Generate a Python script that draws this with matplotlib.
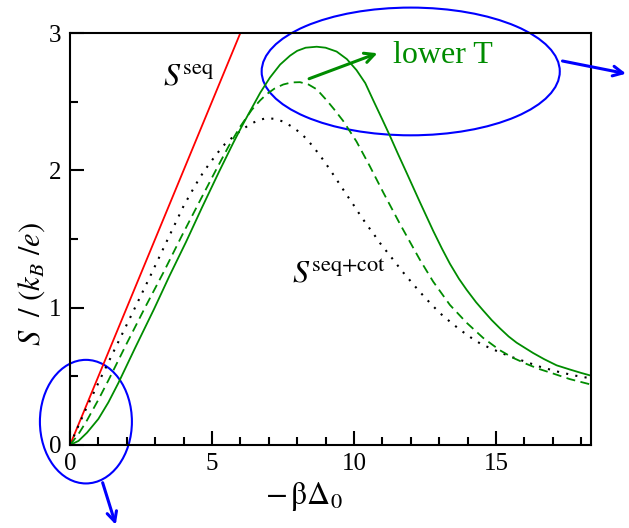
import matplotlib
matplotlib.use("Agg")
import matplotlib.pyplot as plt
from matplotlib.patches import Ellipse

plt.rcParams["font.family"] = ["Liberation Serif", "DejaVu Serif"]
plt.rcParams["mathtext.fontset"] = "stix"

GREEN = "#008c00"

# sequential tunnelling only: S = -beta*Delta0 / 2
x_seq = [0.0, 6.2]
s_seq = [0.0, 3.1]

# sequential + cotunnelling (dotted)
x_cot = [0.0, 0.5, 1.11, 1.7, 2.29, 2.85, 3.4, 4.0, 4.3, 4.58, 4.88, 5.17,
         5.45, 5.75, 6.05, 6.34, 6.63, 6.92, 7.2, 7.51, 7.8, 8.10, 8.35, 8.57,
         8.8, 9.04, 9.27, 9.51, 9.75, 9.98, 10.2, 10.45, 10.7, 10.92, 11.15,
         11.38, 11.7, 12.09, 12.32, 12.7, 13.03, 13.4, 13.73, 14.1, 14.44,
         14.8, 15.14, 15.5, 15.85, 16.2, 16.55, 16.9, 17.25, 17.8, 18.35]
s_cot = [0.0, 0.235, 0.5, 0.75, 1.0, 1.24, 1.48, 1.74, 1.85, 1.95, 2.04, 2.12,
         2.19, 2.245, 2.295, 2.335, 2.365, 2.38, 2.375, 2.355, 2.32, 2.275,
         2.225, 2.17, 2.11, 2.04, 1.97, 1.895, 1.82, 1.75, 1.68, 1.605, 1.535,
         1.47, 1.41, 1.35, 1.265, 1.17, 1.115, 1.03, 0.96, 0.895, 0.84, 0.785,
         0.74, 0.705, 0.675, 0.645, 0.62, 0.595, 0.57, 0.55, 0.53, 0.505, 0.485]

# intermediate temperature (dashed)
x_mid = [0.0, 0.3, 0.6, 1.0, 1.35, 2.0, 2.64, 3.3, 3.93, 4.58, 5.16, 5.6,
         6.0, 6.4, 6.7, 6.93, 7.2, 7.51, 7.8, 8.10, 8.4, 8.69, 9.04, 9.3,
         9.62, 10.09, 10.56, 11.03, 11.62, 12.32, 12.79, 13.38, 13.97, 14.55,
         15.14, 15.6, 16.08, 16.5, 17.02, 17.6, 18.35]
s_mid = [0.0, 0.08, 0.18, 0.33, 0.47, 0.74, 1.0, 1.26, 1.52, 1.78, 2.01, 2.18,
         2.32, 2.44, 2.51, 2.555, 2.595, 2.625, 2.64, 2.642, 2.625, 2.59, 2.51,
         2.445, 2.36, 2.21, 2.03, 1.84, 1.61, 1.35, 1.19, 1.02, 0.89, 0.78,
         0.69, 0.635, 0.59, 0.555, 0.52, 0.48, 0.44]

# lowest temperature (solid)
x_low = [0.0, 0.3, 0.6, 1.0, 1.35, 1.7, 2.0, 2.3, 2.96, 3.5, 4.09, 4.65,
         5.25, 5.75, 6.05, 6.34, 6.7, 7.04, 7.4, 7.75, 8.0, 8.3, 8.69, 9.0,
         9.39, 9.75, 10.09, 10.4, 10.68, 11.0, 11.27, 11.55, 11.86, 12.32,
         12.79, 13.1, 13.38, 13.7, 13.97, 14.3, 14.55, 14.85, 15.14, 15.45,
         15.73, 16.0, 16.31, 16.7, 17.14, 17.6, 18.0, 18.35]
s_low = [0.0, 0.03, 0.09, 0.19, 0.31, 0.45, 0.58, 0.71, 0.99, 1.23, 1.48, 1.73,
         1.99, 2.2, 2.32, 2.43, 2.565, 2.675, 2.77, 2.835, 2.87, 2.893, 2.90,
         2.893, 2.865, 2.81, 2.73, 2.635, 2.51, 2.37, 2.25, 2.12, 1.98, 1.77,
         1.56, 1.43, 1.32, 1.21, 1.13, 1.04, 0.98, 0.91, 0.85, 0.79, 0.745,
         0.71, 0.67, 0.625, 0.58, 0.55, 0.525, 0.505]

xticks = [0, 5, 10, 15]
yticks = [0, 1, 2, 3]


fig = plt.figure(figsize=(6.29, 5.28), dpi=100)
ax = fig.add_axes([0.1113, 0.1572, 0.8283, 0.7803])

ax.plot(x_seq, s_seq, color="red", lw=1.3)
ax.plot(x_cot, s_cot, color="black", lw=1.5, linestyle=(0, (1, 3.5)))
ax.plot(x_mid, s_mid, color=GREEN, lw=1.3, linestyle=(0, (5, 3)))
ax.plot(x_low, s_low, color=GREEN, lw=1.3)

ax.set_xlim(0, 18.35)
ax.set_ylim(0, 3)
ax.set_xticks(xticks)
ax.set_yticks(yticks)
ax.set_xticks(range(0, 19), minor=True)
ax.set_yticks([0.5, 1.5, 2.5], minor=True)
ax.tick_params(which="both", direction="in", labelsize=18, width=1.5,
               top=False, right=False, pad=6)
ax.tick_params(which="major", length=10)
ax.tick_params(which="minor", length=6)
for sp in ax.spines.values():
    sp.set_linewidth(1.5)

ax.set_xlabel(r"$-\,\mathrm{\beta}\Delta_0$", fontsize=23)
ax.xaxis.set_label_coords(0.449, -0.085)
ax.set_ylabel(r"$S\ \ /\ (k_B\ /e)$", fontsize=22)
ax.yaxis.set_label_coords(-0.045, 0.39)

# curve labels
ax.text(3.27, 2.62, r"$S^{\mathrm{seq}}$", fontsize=23, va="baseline")
ax.text(7.82, 1.18, r"$S^{\mathrm{seq{+}cot}}$", fontsize=23, va="baseline")
ax.text(11.37, 2.78, "lower T", fontsize=23, color=GREEN, va="baseline")
ax.annotate("", xy=(10.92, 2.86), xytext=(8.33, 2.66),
            arrowprops=dict(arrowstyle="->,head_length=0.7,head_width=0.35",
                            color=GREEN, lw=2.2))

# highlighted regions
ax.add_patch(Ellipse((0.56, 0.17), 3.24, 0.90, fill=False, ec="blue",
                     lw=1.5, clip_on=False))
ax.add_patch(Ellipse((12.0, 2.72), 10.5, 0.93, fill=False, ec="blue",
                     lw=1.5, clip_on=False))
ax.annotate("", xy=(1.64, -0.60), xytext=(1.12, -0.255),
            annotation_clip=False,
            arrowprops=dict(arrowstyle="->,head_length=0.7,head_width=0.35",
                            color="blue", lw=2.2))
ax.annotate("", xy=(19.68, 2.70), xytext=(17.25, 2.80),
            annotation_clip=False,
            arrowprops=dict(arrowstyle="->,head_length=0.7,head_width=0.35",
                            color="blue", lw=2.2))

fig.savefig("out.png", dpi=100)
